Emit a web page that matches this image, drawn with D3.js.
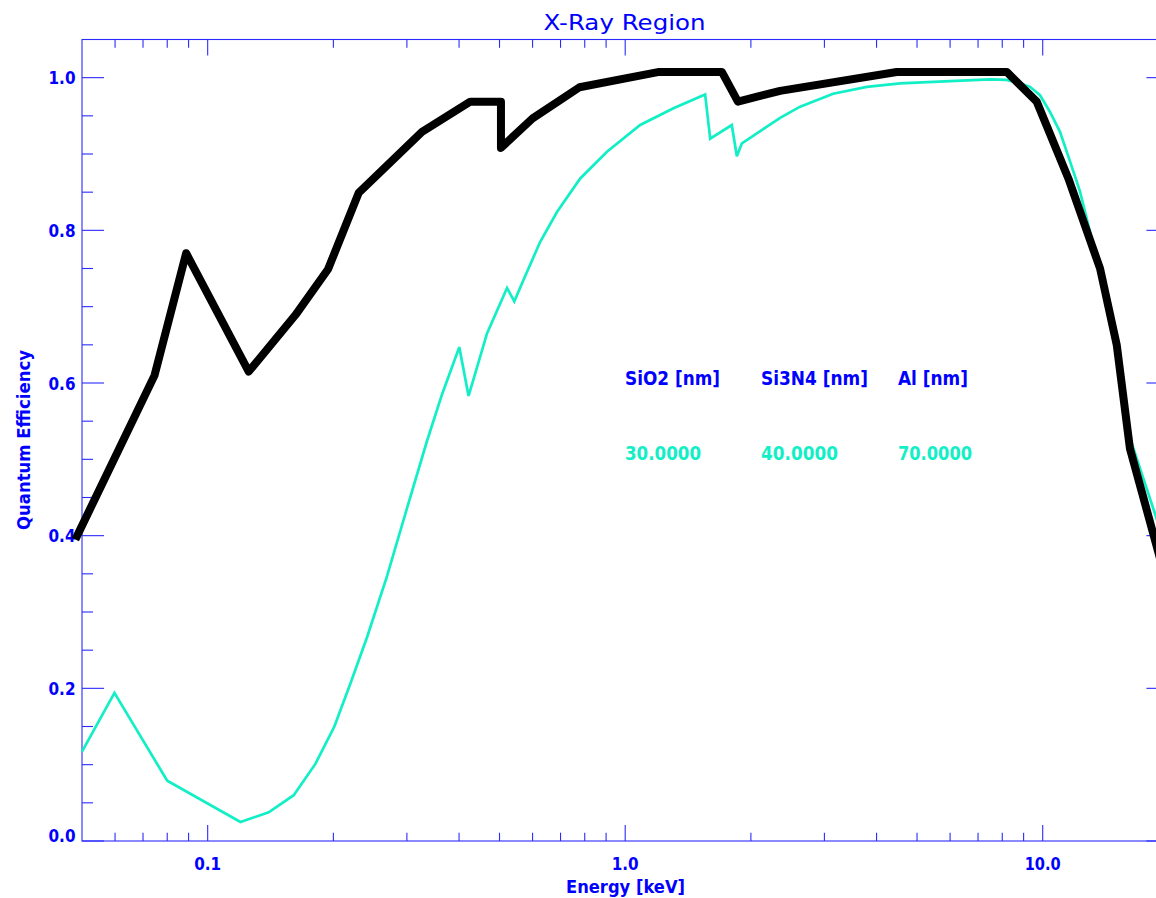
<!DOCTYPE html>
<html>
<head>
<meta charset="utf-8">
<script src="https://cdn.jsdelivr.net/npm/d3@7"></script>
<style>
  html, body { margin: 0; padding: 0; background: #ffffff; }
  svg { display: block; overflow: hidden; }
  text { font-family: "DejaVu Sans", "Liberation Sans", sans-serif; }
</style>
</head>
<body>
<svg id="chart" width="1156" height="898"></svg>
<script>
// Overall quantum efficiency (black) and filtered efficiency (aquamarine) vs. photon energy
const energyTotal = [0.0482, 0.0746, 0.0888, 0.1254, 0.1622, 0.1942, 0.2299, 0.326, 0.4255,
  0.504, 0.504, 0.600, 0.7773, 1.206, 1.704, 1.862, 2.35, 4.47, 8.20, 9.675, 11.52, 13.72,
  15.04, 16.18, 20.0];
const qeTotal = [0.395, 0.610, 0.770, 0.615, 0.689, 0.749, 0.849, 0.929, 0.9686,
  0.9686, 0.908, 0.9466, 0.9874, 1.0075, 1.0075, 0.9686, 0.9827, 1.0075, 1.0075, 0.9686, 0.868, 0.750,
  0.650, 0.514, 0.33];

const energyFiltered = [0.05, 0.0598, 0.080, 0.1198, 0.140, 0.1607, 0.1811, 0.2011, 0.2196, 0.2408,
  0.2689, 0.3002, 0.3352, 0.3641, 0.4005, 0.4216, 0.4667, 0.5211, 0.5425, 0.5706, 0.6258, 0.6864,
  0.7803, 0.9043, 1.0862, 1.305, 1.554, 1.598, 1.800, 1.851, 1.903, 2.350, 2.624, 3.148, 3.790,
  4.553, 5.998, 7.478, 8.20, 8.826, 9.325, 9.852, 10.41, 11.00, 11.63, 12.28, 12.98, 13.72, 15.1,
  16.18, 18.67, 20.0];
const qeFiltered = [0.117, 0.194, 0.079, 0.025, 0.0376, 0.060, 0.101, 0.150, 0.206, 0.267,
  0.347, 0.436, 0.524, 0.585, 0.647, 0.583, 0.665, 0.7245, 0.707, 0.735, 0.785, 0.824,
  0.868, 0.903, 0.938, 0.960, 0.978, 0.920, 0.938, 0.897, 0.914, 0.9474, 0.962, 0.979, 0.988,
  0.9925, 0.9955, 0.9977, 0.997, 0.9925, 0.988, 0.977, 0.955, 0.929, 0.890, 0.851, 0.798, 0.750, 0.645,
  0.528, 0.425, 0.375];

// Axis labels
const xTickValues = [0.1, 1, 10];
const xTickLabels = ["0.1", "1.0", "10.0"];
const yTickValues = [0, 0.2, 0.4, 0.6, 0.8, 1.0];
const yTickLabels = ["0.0", "0.2", "0.4", "0.6", "0.8", "1.0"];

// Layer thickness annotation
const layerNames = ["SiO2 [nm]", "Si3N4 [nm]", "Al [nm]"];
const layerThickness = [30, 40, 70];

const BLUE = "#0000ff";
const AXIS = "#2a2aff";
const AQUA = "#12efc6";

const svg = d3.select("#chart");
const plotLeft = 82, plotRight = 1168.4, plotTop = 39.5, plotBottom = 841;

const x = d3.scaleLog().domain([0.05, 20]).range([plotLeft, plotRight]);
const y = d3.scaleLinear().domain([0, 1.05]).range([plotBottom, plotTop]);

// Frame
const frame = svg.append("g").attr("stroke", AXIS).attr("stroke-width", 1.1).attr("fill", "none");
frame.append("rect").attr("x", plotLeft).attr("y", plotTop)
  .attr("width", plotRight - plotLeft).attr("height", plotBottom - plotTop);

// Minor x ticks: 2..9 within each decade
const xMinor = [];
[0.01, 0.1, 1, 10].forEach(d => {
  for (let k = 2; k <= 9; k++) {
    const v = k * d;
    if (v > 0.05 && v < 20) xMinor.push(v);
  }
});
const xMajorLen = 16, xMinorLen = 8.3;
const yMajorLen = 22, yMinorLen = 11;

xMinor.forEach(v => {
  frame.append("line").attr("x1", x(v)).attr("x2", x(v)).attr("y1", plotBottom).attr("y2", plotBottom - xMinorLen);
  frame.append("line").attr("x1", x(v)).attr("x2", x(v)).attr("y1", plotTop).attr("y2", plotTop + xMinorLen);
});
xTickValues.forEach(v => {
  frame.append("line").attr("x1", x(v)).attr("x2", x(v)).attr("y1", plotBottom).attr("y2", plotBottom - xMajorLen);
  frame.append("line").attr("x1", x(v)).attr("x2", x(v)).attr("y1", plotTop).attr("y2", plotTop + xMajorLen);
});

// y ticks: major every 0.2, minor every 0.05
const yMinor = d3.range(1, 21).map(i => i * 0.05).filter(v => Math.abs(v * 5 - Math.round(v * 5)) > 1e-6);
yMinor.forEach(v => {
  frame.append("line").attr("x1", plotLeft).attr("x2", plotLeft + yMinorLen).attr("y1", y(v)).attr("y2", y(v));
  frame.append("line").attr("x1", plotRight).attr("x2", plotRight - yMinorLen).attr("y1", y(v)).attr("y2", y(v));
});
yTickValues.forEach(v => {
  frame.append("line").attr("x1", plotLeft).attr("x2", plotLeft + yMajorLen).attr("y1", y(v)).attr("y2", y(v));
  frame.append("line").attr("x1", plotRight).attr("x2", plotRight - yMajorLen).attr("y1", y(v)).attr("y2", y(v));
});

// Tick labels
const labels = svg.append("g").attr("fill", BLUE).attr("font-size", 17.5).attr("font-weight", "bold");
xTickValues.forEach((v, i) => {
  labels.append("text").attr("x", x(v)).attr("y", 869.5).attr("text-anchor", "middle")
    .attr("textLength", xTickLabels[i].length * 9).attr("lengthAdjust", "spacingAndGlyphs")
    .text(xTickLabels[i]);
});
yTickValues.forEach((v, i) => {
  const cy = Math.min(y(v), 835.5);
  labels.append("text").attr("x", 75.5).attr("y", cy + 6.6).attr("text-anchor", "end")
    .attr("textLength", 27).attr("lengthAdjust", "spacingAndGlyphs").text(yTickLabels[i]);
});

// Axis titles
svg.append("text").attr("x", 625.5).attr("y", 893).attr("text-anchor", "middle")
  .attr("fill", BLUE).attr("font-size", 17.5).attr("font-weight", "bold")
  .attr("textLength", 119).attr("lengthAdjust", "spacingAndGlyphs").text("Energy [keV]");
svg.append("text").attr("transform", "translate(30,440) rotate(-90)").attr("text-anchor", "middle")
  .attr("fill", BLUE).attr("font-size", 17.5).attr("font-weight", "bold")
  .attr("textLength", 180).attr("lengthAdjust", "spacingAndGlyphs").text("Quantum Efficiency");
svg.append("text").attr("x", 624.5).attr("y", 29.5).attr("text-anchor", "middle")
  .attr("fill", BLUE).attr("font-size", 22)
  .attr("textLength", 162).attr("lengthAdjust", "spacingAndGlyphs").text("X-Ray Region");

// Curves
const line = d3.line().x(d => x(d[0])).y(d => y(d[1]));

svg.append("path")
  .datum(energyFiltered.map((e, i) => [e, qeFiltered[i]]))
  .attr("d", line)
  .attr("fill", "none").attr("stroke", AQUA).attr("stroke-width", 2.7)
  .attr("stroke-linejoin", "miter").attr("stroke-miterlimit", 3);

svg.append("path")
  .datum(energyTotal.map((e, i) => [e, qeTotal[i]]))
  .attr("d", line)
  .attr("fill", "none").attr("stroke", "#000000").attr("stroke-width", 8)
  .attr("stroke-linejoin", "round");

// Layer thickness annotation
const legendX = [625, 761, 898];
const nameWidths = [95, 107, 70];
const valueWidths = [76, 77, 74];
layerNames.forEach((name, i) => {
  svg.append("text").attr("x", legendX[i]).attr("y", 385).attr("fill", BLUE)
    .attr("font-size", 19).attr("font-weight", "bold")
    .attr("textLength", nameWidths[i]).attr("lengthAdjust", "spacingAndGlyphs").text(name);
  svg.append("text").attr("x", legendX[i]).attr("y", 460).attr("fill", AQUA)
    .attr("font-size", 19).attr("font-weight", "bold")
    .attr("textLength", valueWidths[i]).attr("lengthAdjust", "spacingAndGlyphs")
    .text(d3.format(".4f")(layerThickness[i]));
});
</script>
</body>
</html>
